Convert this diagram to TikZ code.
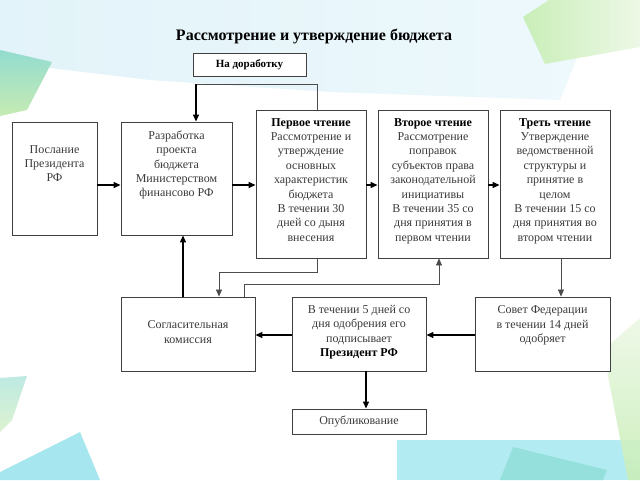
\documentclass[tikz,border=0pt]{standalone}
\usepackage{fontspec}
\setmainfont{Liberation Serif}
\usetikzlibrary{arrows.meta}
\definecolor{txtgray}{HTML}{3A3A3A}
\definecolor{boxline}{HTML}{404040}
\definecolor{paleblue}{HTML}{E2F3F9}
\definecolor{paleblueb}{HTML}{EEF9FC}
\definecolor{limeA}{HTML}{C9EEB8}
\definecolor{limeB}{HTML}{EDF8E6}
\definecolor{tealA}{HTML}{93DCD0}
\definecolor{tealB}{HTML}{C6EBB2}
\definecolor{cyanA}{HTML}{B2ECF2}
\definecolor{cyanB}{HTML}{95E0DD}
\definecolor{cyanC}{HTML}{A6E6EE}
\tikzset{
  bx/.style={draw=boxline, line width=0.9pt, fill=white, inner sep=0pt},
  txt/.style={inner sep=0pt, align=center, text=txtgray, font=\fontsize{12}{14.4}\selectfont},
  arr/.style={line width=1.3pt, -{Triangle[length=7pt,width=6pt]}},
  arrthin/.style={line width=0.7pt, draw=black!70, -{Triangle[length=7pt,width=6pt]}},
  thinline/.style={line width=0.7pt, draw=black!70},
}
\begin{document}
\begin{tikzpicture}[x=1pt,y=-1pt]
\useasboundingbox (0,0) rectangle (640,480);
% background decorations
\fill[white] (0,0) rectangle (640,480);
\shade[left color=paleblue, right color=paleblueb] (0,0) -- (600,0) -- (560,100) -- (330,92) -- (150,80) -- (0,62) -- cycle;
\shade[left color=limeA, right color=limeB] (523,17) -- (552,-2) -- (640,-2) -- (640,47) -- (545,64) -- cycle;
\shade[top color=tealA, bottom color=tealB] (0,50) -- (52,62) -- (27,110) -- (0,116) -- cycle;
\shade[top color=tealA, bottom color=tealB, opacity=0.6] (0,378) -- (27,376) -- (12,420) -- (0,432) -- cycle;
\fill[cyanC] (0,472) -- (80,432) -- (100,480) -- (0,480) -- cycle;
\fill[cyanA] (397,440) rectangle (640,480);
\fill[cyanB] (513,447) -- (607,470) -- (603,480) -- (500,480) -- cycle;
\shade[top color=limeB, bottom color=limeA, opacity=0.9] (603,350) -- (640,318) -- (640,480) -- (628,480) -- cycle;

% title
\node[font=\fontsize{16}{19}\selectfont\bfseries] (title) at (314,36) {Рассмотрение и утверждение бюджета};

% boxes
\node[bx, minimum width=113pt, minimum height=23pt] (dorab) at (249.5,64.5) {};
\node[inner sep=0pt, font=\fontsize{11}{13}\selectfont\bfseries] (dorabt) at (dorab) {На доработку};

\node[bx, minimum width=85pt, minimum height=113pt] (posl) at (54.5,178.5) {};
\node[txt, anchor=north] (poslt) at (54.5,145) {Послание\\Президента\\РФ};

\node[bx, minimum width=111pt, minimum height=113pt] (razr) at (176.5,178.5) {};
\node[txt, anchor=north] (razrt) at (176.5,130.5) {Разработка\\проекта\\бюджета\\Министерством\\финансово РФ};

\node[bx, minimum width=110pt, minimum height=148pt] (perv) at (311,184) {};
\node[txt, anchor=north] (pervt) at (311,118) {\textbf{\textcolor{black}{Первое чтение}}\\Рассмотрение и\\утверждение\\основных\\характеристик\\бюджета\\В течении 30\\дней со дыня\\внесения};

\node[bx, minimum width=110pt, minimum height=148pt] (vtor) at (433,184) {};
\node[txt, anchor=north] (vtort) at (433,118) {\textbf{\textcolor{black}{Второе чтение}}\\Рассмотрение\\поправок\\субъектов права\\законодательной\\инициативы\\В течении 35 со\\дня принятия в\\первом чтении};

\node[bx, minimum width=110pt, minimum height=148pt] (tret) at (555,184) {};
\node[txt, anchor=north] (trett) at (555,118) {\textbf{\textcolor{black}{Треть чтение}}\\Утверждение\\ведомственной\\структуры и\\принятие в\\целом\\В течении 15 со\\дня принятия во\\втором чтении};

\node[bx, minimum width=134pt, minimum height=74pt] (sogl) at (188,334) {};
\node[txt] (soglt) at (188,332) {Согласительная\\комиссия};

\node[bx, minimum width=134pt, minimum height=74pt] (pres) at (359,334) {};
\node[txt] (prest) at (359,332) {В течении 5 дней со\\дня одобрения его\\подписывает\\\textbf{\textcolor{black}{Президент РФ}}};

\node[bx, minimum width=135pt, minimum height=74pt] (sovet) at (542.5,334) {};
\node[txt] (sovett) at (542.5,325.5) {Совет Федерации\\в течении 14 дней\\одобряет};

\node[bx, minimum width=134pt, minimum height=25pt] (opub) at (359,421.5) {};
\node[txt] (opubt) at (opub) {Опубликование};

% helper coordinates
\coordinate (yA) at (0,185);
\coordinate (yB) at (0,335);
\coordinate (xa) at (317,0);
\coordinate (xb) at (196,84);
\coordinate (xc) at (183,0);
\coordinate (c1) at (317,272);
\coordinate (c2) at (219,272);
\coordinate (d1) at (244,284);
\coordinate (d2) at (439,284);
\coordinate (xe) at (561,0);
\coordinate (xf) at (366,0);

% connectors
\draw[arr] (posl.east |- yA) -- (razr.west |- yA);
\draw[arr] (razr.east |- yA) -- (perv.west |- yA);
\draw[arr] (perv.east |- yA) -- (vtor.west |- yA);
\draw[arr] (vtor.east |- yA) -- (tret.west |- yA);
\draw[thinline] (perv.north -| xa) |- (xb);
\draw[arr] (xb) -- (razr.north -| xb);
\draw[arr] (sogl.north -| xc) -- (razr.south -| xc);
\draw[arrthin] (perv.south -| c1) -- (c1) -- (c2) -- (sogl.north -| c2);
\draw[arrthin] (sogl.north -| d1) -- (d1) -- (d2) -- (vtor.south -| d2);
\draw[arrthin] (tret.south -| xe) -- (sovet.north -| xe);
\draw[arr] (sovet.west |- yB) -- (pres.east |- yB);
\draw[arr] (pres.west |- yB) -- (sogl.east |- yB);
\draw[arr] (pres.south -| xf) -- (opub.north -| xf);
\end{tikzpicture}
\end{document}
